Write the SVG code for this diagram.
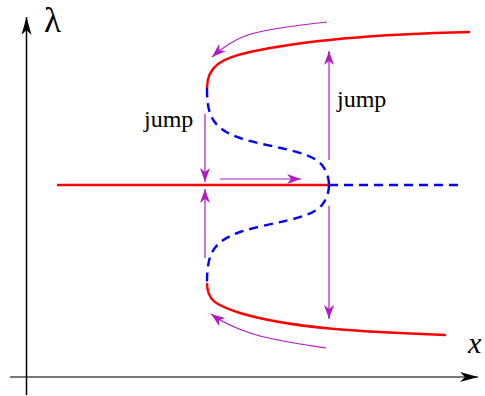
<svg xmlns="http://www.w3.org/2000/svg" width="485" height="396" viewBox="0 0 485 396">
<style>
.red{fill:none;stroke:#ff0000;stroke-width:2.4}
.blue{fill:none;stroke:#0000ff;stroke-width:2.4;stroke-dasharray:9,6}
.mag{fill:none;stroke:#b01cc0;stroke-width:1.2}
.lbl{font-family:"Liberation Serif","Times New Roman",serif;fill:#000}
</style>
<defs>
<marker id="ma" viewBox="0 0 14 10" refX="14" refY="5" markerWidth="14" markerHeight="10" markerUnits="userSpaceOnUse" orient="auto">
<path d="M0,0 L14,5 L0,10 L4,5 Z" fill="#b01cc0"/>
</marker>
<marker id="ax" viewBox="0 0 18 10" refX="18" refY="5" markerWidth="18" markerHeight="10" markerUnits="userSpaceOnUse" orient="auto">
<path d="M0,0 L18,5 L0,10 L5,5 Z" fill="#000"/>
</marker>
</defs>
<g id="axes">
<line x1="10" y1="377" x2="478" y2="377" stroke="#777" stroke-width="2" marker-end="url(#ax)"/>
<line x1="26.5" y1="395" x2="26.5" y2="17" stroke="#000" stroke-width="1.5" marker-end="url(#ax)"/>
<text class="lbl" x="44" y="32" font-size="35">λ</text>
<text class="lbl" x="468" y="353" font-size="30" font-style="italic">x</text>
</g>
<g id="branches">
<path class="red" d="M57,185 L329,185"/>
<path class="blue" d="M329,185 L458,185"/>
<path class="red" d="M207,88 C207,66 222,58 250,52 C300,41 380,34 470,32"/>
<path class="red" d="M207,283 C207,300 215,305 240,313 C290,328 360,332 446,335"/>
<path class="blue" d="M207,88 C207,112 210,128 240,138 C270,148 310,150 322,165 C328,173 329,180 329,185"/>
<path class="blue" d="M329,185 C329,190 328,197 322,205 C310,220 270,222 240,232 C212,242 207,255 207,283"/>
</g>
<g id="connectors">
<line class="mag" x1="205" y1="114" x2="205" y2="182" marker-end="url(#ma)"/>
<line class="mag" x1="205" y1="258" x2="205" y2="189" marker-end="url(#ma)"/>
<line class="mag" x1="220" y1="179" x2="301" y2="179" marker-end="url(#ma)"/>
<line class="mag" x1="329" y1="160" x2="329" y2="51" marker-end="url(#ma)"/>
<line class="mag" x1="329" y1="206" x2="329" y2="319" marker-end="url(#ma)"/>
<path class="mag" d="M327,22 C290,26 260,30 245,36 C232,41 222,48 212,57" marker-end="url(#ma)"/>
<path class="mag" d="M326,348 C300,344 270,340 250,333 C235,328 222,322 211,314" marker-end="url(#ma)"/>
</g>
<g id="labels">
<text class="lbl" x="144" y="127" font-size="24">jump</text>
<text class="lbl" x="337" y="107" font-size="24">jump</text>
</g>
</svg>
